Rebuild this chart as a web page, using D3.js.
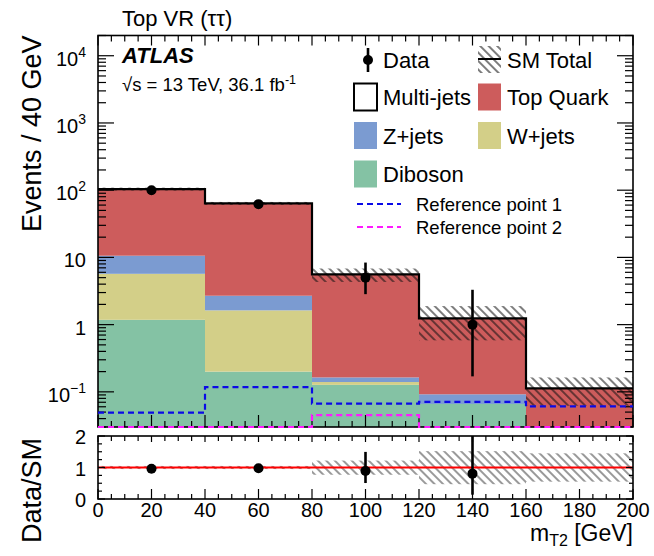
<!DOCTYPE html>
<html><head><meta charset="utf-8">
<script src="https://cdn.jsdelivr.net/npm/d3@7"></script>
<style>
body{margin:0;background:#fff}
svg{display:block}
text{font-family:"Liberation Sans",Arial,Helvetica,sans-serif;fill:#000}
</style>
</head><body>
<svg id="chart" width="654" height="556"></svg>
<script>
// m_T2 bins (GeV)
const binEdges = [0, 40, 80, 120, 160, 200];
// Background stack, events per bin (bottom to top)
const diboson   = [1.18, 0.20, 0.127, 0.066, 0];
const wjets     = [4.52, 1.43, 0.013, 0, 0];
const zjets     = [4.9, 1.06, 0.024, 0.026, 0];
const multijets = [0, 0, 0, 0, 0];
const topQuark  = [93.4, 61.0, 5.44, 1.15, 0.113];
// Relative uncertainty on the SM total
const smUncUp   = [0.05, 0.05, 0.22, 0.52, 0.45];
const smUncDown = [0.05, 0.05, 0.23, 0.53, 0.45];
// Observed data with Poisson intervals
const dataCounts  = [100, 62, 5, 1, 0];
const dataErrUp   = [10.5, 8.4, 3.38, 2.30, 0];
const dataErrDown = [9.5, 7.4, 2.16, 0.83, 0];
// Signal reference points
const refPoint1 = [0.049, 0.1175, 0.067, 0.071, 0.061];
const refPoint2 = [0.03, 0.03, 0.045, 0.03, 0.03];
// Axis labels
const xTickValues = [0, 20, 40, 60, 80, 100, 120, 140, 160, 180, 200];
const yTickValues = [0.1, 1, 10, 100, 1000, 10000];
const yTickLabels = [["10", "\u22121"], ["1", ""], ["10", ""], ["10", "2"], ["10", "3"], ["10", "4"]];
const ratioTickValues = [0, 1, 2];

const colors = {
  diboson: "#84c2a4", wjets: "#d3cf88", zjets: "#7b9bd1", multijets: "#ffffff", top: "#cd5c5c",
  ref1: "#0a0ae6", ref2: "#ff19ff"
};

const svg = d3.select("#chart");
const L = 98, R = 633, mainTop = 35.5, mainBot = 427, ratTop = 436, ratBot = 499;

const x = d3.scaleLinear().domain([0, 200]).range([L, R]);
const y = d3.scaleLog().domain([0.03, 2e4]).range([mainBot, mainTop]);
const yr = d3.scaleLinear().domain([0, 2]).range([ratBot, ratTop]);

const defs = svg.append("defs");
function hatch(id, color, w) {
  const p = defs.append("pattern").attr("id", id).attr("patternUnits", "userSpaceOnUse")
    .attr("width", 6).attr("height", 6).attr("patternTransform", "rotate(-45)");
  p.append("line").attr("x1", 1).attr("y1", -1).attr("x2", 1).attr("y2", 7)
    .attr("stroke", color).attr("stroke-width", w);
}
hatch("hatch", "#111", 1.1);
hatch("hatchR", "#333", 1.0);
defs.append("clipPath").attr("id", "clipMain").append("rect")
  .attr("x", L).attr("y", mainTop).attr("width", R - L).attr("height", mainBot - mainTop);
defs.append("clipPath").attr("id", "clipRef").append("rect")
  .attr("x", L).attr("y", mainTop).attr("width", R - L).attr("height", mainBot - mainTop + 2);
defs.append("clipPath").attr("id", "clipRatio").append("rect")
  .attr("x", L).attr("y", ratTop).attr("width", R - L).attr("height", ratBot - ratTop);

const nBins = dataCounts.length;
const bins = d3.range(nBins).map(i => ({ i, x0: binEdges[i], x1: binEdges[i + 1], xc: (binEdges[i] + binEdges[i + 1]) / 2 }));
const layers = [
  { key: "diboson", vals: diboson },
  { key: "wjets", vals: wjets },
  { key: "zjets", vals: zjets },
  { key: "multijets", vals: multijets },
  { key: "top", vals: topQuark }
];
const totals = bins.map(b => d3.sum(layers, l => l.vals[b.i]));

// ---- main panel ----
const gMain = svg.append("g").attr("clip-path", "url(#clipMain)");
const floorV = y.domain()[0];
layers.forEach((l, li) => {
  bins.forEach(b => {
    const lo = d3.sum(layers.slice(0, li), q => q.vals[b.i]);
    const hi = lo + l.vals[b.i];
    if (l.vals[b.i] <= 0 || hi <= floorV) return;
    gMain.append("rect")
      .attr("x", x(b.x0)).attr("width", x(b.x1) - x(b.x0))
      .attr("y", y(hi)).attr("height", y(Math.max(lo, floorV * 0.5)) - y(hi))
      .attr("fill", colors[l.key]);
  });
});

// uncertainty band on SM total
bins.forEach(b => {
  const t = totals[b.i];
  const hi = t * (1 + smUncUp[b.i]), lo = Math.max(t * (1 - smUncDown[b.i]), floorV * 0.5);
  gMain.append("rect").attr("x", x(b.x0)).attr("width", x(b.x1) - x(b.x0))
    .attr("y", y(hi)).attr("height", y(lo) - y(hi)).attr("fill", "url(#hatch)");
});

function stepPoints(vals) {
  const pts = [];
  bins.forEach(b => { pts.push([b.x0, vals[b.i]]); pts.push([b.x1, vals[b.i]]); });
  return pts;
}
const stepLine = d3.line().x(d => x(d[0])).y(d => y(Math.max(d[1], floorV)));

gMain.append("path").attr("d", stepLine(stepPoints(totals)))
  .attr("fill", "none").attr("stroke", "#000").attr("stroke-width", 2.2);

// data
bins.filter(b => dataCounts[b.i] > 0).forEach(b => {
  const d = dataCounts[b.i];
  gMain.append("line").attr("x1", x(b.xc)).attr("x2", x(b.xc))
    .attr("y1", y(d + dataErrUp[b.i])).attr("y2", y(Math.max(d - dataErrDown[b.i], floorV * 0.5)))
    .attr("stroke", "#000").attr("stroke-width", 2.6);
  gMain.append("circle").attr("cx", x(b.xc)).attr("cy", y(d)).attr("r", 5).attr("fill", "#000");
});

// ---- ratio panel ----
const gRat = svg.append("g").attr("clip-path", "url(#clipRatio)");
bins.forEach(b => {
  gRat.append("rect").attr("x", x(b.x0)).attr("width", x(b.x1) - x(b.x0))
    .attr("y", yr(1 + smUncUp[b.i])).attr("height", yr(1 - smUncDown[b.i]) - yr(1 + smUncUp[b.i]))
    .attr("fill", "url(#hatchR)");
});
gRat.append("line").attr("x1", L).attr("x2", R).attr("y1", yr(1)).attr("y2", yr(1))
  .attr("stroke", "#ff0000").attr("stroke-width", 2);
bins.filter(b => dataCounts[b.i] > 0).forEach(b => {
  const t = totals[b.i], d = dataCounts[b.i];
  gRat.append("line").attr("x1", x(b.xc)).attr("x2", x(b.xc))
    .attr("y1", yr((d + dataErrUp[b.i]) / t)).attr("y2", yr((d - dataErrDown[b.i]) / t))
    .attr("stroke", "#000").attr("stroke-width", 2.6);
  gRat.append("circle").attr("cx", x(b.xc)).attr("cy", yr(d / t)).attr("r", 5).attr("fill", "#000");
});

// ---- axes and frames ----
const axG = svg.append("g").attr("stroke", "#000").attr("stroke-width", 1.2);
function tick(x1, y1, x2, y2) { axG.append("line").attr("x1", x1).attr("y1", y1).attr("x2", x2).attr("y2", y2); }

const xMinor = d3.range(0, 201, 5);
xMinor.forEach(v => {
  const major = v % 20 === 0;
  tick(x(v), mainBot, x(v), mainBot - (major ? 12 : 6));
  tick(x(v), mainTop, x(v), mainTop + (major ? 10 : 6));
  tick(x(v), ratBot, x(v), ratBot - (major ? 10 : 5));
  tick(x(v), ratTop, x(v), ratTop + (major ? 6 : 5));
});
const yMinor = [];
for (let e = -2; e <= 4; e++) for (let k = 1; k <= 9; k++) {
  const v = k * Math.pow(10, e);
  if (v >= y.domain()[0] && v <= y.domain()[1]) yMinor.push({ v, major: k === 1 });
}
yMinor.forEach(t => {
  const len = t.major ? 16 : 8;
  tick(L, y(t.v), L + len, y(t.v));
  tick(R, y(t.v), R - len, y(t.v));
});
d3.range(0, 2.01, 0.25).forEach(v => {
  const major = Math.abs(v - Math.round(v)) < 1e-6;
  tick(L, yr(v), L + (major ? 7 : 4), yr(v));
  tick(R, yr(v), R - (major ? 7 : 4), yr(v));
});

svg.append("rect").attr("x", L).attr("y", mainTop).attr("width", R - L).attr("height", mainBot - mainTop)
  .attr("fill", "none").attr("stroke", "#000").attr("stroke-width", 1.6);
svg.append("rect").attr("x", L).attr("y", ratTop).attr("width", R - L).attr("height", ratBot - ratTop)
  .attr("fill", "none").attr("stroke", "#000").attr("stroke-width", 1.6);

// signal reference lines, drawn over the frame so the ones at the floor stay visible
const gRef = svg.append("g").attr("clip-path", "url(#clipRef)");
gRef.append("path").attr("d", stepLine(stepPoints(refPoint2)))
  .attr("fill", "none").attr("stroke", colors.ref2).attr("stroke-width", 2.2).attr("stroke-dasharray", "6,4");
gRef.append("path").attr("d", stepLine(stepPoints(refPoint1)))
  .attr("fill", "none").attr("stroke", colors.ref1).attr("stroke-width", 2.2).attr("stroke-dasharray", "6,4");

// tick labels
xTickValues.forEach(v => {
  svg.append("text").attr("x", x(v)).attr("y", ratBot + 18).attr("text-anchor", "middle")
    .attr("font-size", 20).text(String(v));
});
yTickValues.forEach((v, i) => {
  const [base, sup] = yTickLabels[i];
  const t = svg.append("text").attr("x", 86).attr("y", y(v) + 10).attr("text-anchor", "end").attr("font-size", 20);
  t.append("tspan").text(base);
  if (sup) t.append("tspan").attr("dy", -9).attr("font-size", 14).text(sup);
});
ratioTickValues.forEach(v => {
  svg.append("text").attr("x", 86).attr("y", yr(v) + 8).attr("text-anchor", "end")
    .attr("font-size", 20).text(String(v));
});

// axis titles
svg.append("text").attr("transform", `translate(41,${mainTop}) rotate(-90)`).attr("text-anchor", "end")
  .attr("font-size", 27).text("Events / 40 GeV");
svg.append("text").attr("transform", `translate(41,${ratTop + 2}) rotate(-90)`).attr("text-anchor", "end")
  .attr("font-size", 27).text("Data/SM");
const xt = svg.append("text").attr("x", R).attr("y", 541).attr("text-anchor", "end").attr("font-size", 23);
xt.append("tspan").text("m");
xt.append("tspan").attr("dy", 5).attr("font-size", 16).text("T2");
xt.append("tspan").attr("dy", -5).text(" [GeV]");

// titles
svg.append("text").attr("x", 122).attr("y", 26).attr("font-size", 22).text("Top VR (\u03c4\u03c4)");
svg.append("text").attr("x", 122).attr("y", 63).attr("font-size", 22).attr("font-weight", "bold")
  .attr("font-style", "italic").text("ATLAS");
const lum = svg.append("text").attr("x", 122).attr("y", 91).attr("font-size", 18.5);
lum.append("tspan").text("\u221as = 13 TeV, 36.1 fb");
lum.append("tspan").attr("dy", -7).attr("font-size", 12.5).text("-1");

// ---- legend ----
const lg = svg.append("g");
const col1 = 354, col2 = 478, boxW = 23, boxH = 27, txtOff = 29;
const rows = [60, 97, 135.5, 174];
lg.append("line").attr("x1", col1 + 14).attr("x2", col1 + 14).attr("y1", rows[0] - 12).attr("y2", rows[0] + 12)
  .attr("stroke", "#000").attr("stroke-width", 2.6);
lg.append("circle").attr("cx", col1 + 14).attr("cy", rows[0]).attr("r", 5).attr("fill", "#000");
lg.append("text").attr("x", col1 + txtOff).attr("y", rows[0] + 8).attr("font-size", 22).text("Data");
lg.append("rect").attr("x", col2).attr("y", rows[0] - 14).attr("width", boxW).attr("height", boxH).attr("fill", "url(#hatch)");
lg.append("line").attr("x1", col2).attr("x2", col2 + boxW).attr("y1", rows[0] - 1).attr("y2", rows[0] - 1)
  .attr("stroke", "#000").attr("stroke-width", 2);
lg.append("text").attr("x", col2 + txtOff).attr("y", rows[0] + 8).attr("font-size", 22).text("SM Total");
const boxes = [
  { c: col1, r: 1, fill: colors.multijets, stroke: "#000", label: "Multi-jets" },
  { c: col2, r: 1, fill: colors.top, label: "Top Quark" },
  { c: col1, r: 2, fill: colors.zjets, label: "Z+jets" },
  { c: col2, r: 2, fill: colors.wjets, label: "W+jets" },
  { c: col1, r: 3, fill: colors.diboson, label: "Diboson" }
];
boxes.forEach(bx => {
  lg.append("rect").attr("x", bx.c).attr("y", rows[bx.r] - boxH / 2).attr("width", boxW).attr("height", boxH)
    .attr("fill", bx.fill).attr("stroke", bx.stroke || "none").attr("stroke-width", 2);
  lg.append("text").attr("x", bx.c + txtOff).attr("y", rows[bx.r] + 8).attr("font-size", 22).text(bx.label);
});
[[204, colors.ref1, "Reference point 1"], [227, colors.ref2, "Reference point 2"]].forEach(([ry, c, label]) => {
  lg.append("line").attr("x1", 357).attr("x2", 401).attr("y1", ry).attr("y2", ry)
    .attr("stroke", c).attr("stroke-width", 2.2).attr("stroke-dasharray", "6,4");
  lg.append("text").attr("x", 416).attr("y", ry + 7).attr("font-size", 18.5).text(label);
});
</script>
</body></html>
